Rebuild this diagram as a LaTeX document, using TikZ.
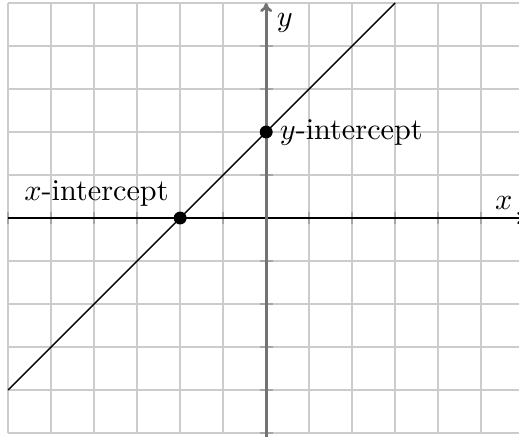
\documentclass[tikz,border=0pt]{standalone}
\usetikzlibrary{arrows.meta}

\begin{document}
\begin{tikzpicture}[x=0.5cm, y=0.5cm,
    gridline/.style={draw, gray!40, line width=0.6pt},
    tick/.style={draw, black!35, line width=0.6pt},
    axis/.style={draw, line width=0.6pt, -{To[length=3pt,width=4pt]}},
    dot/.style={circle, fill=black, inner sep=0pt, minimum size=1.5mm}]

    \useasboundingbox (-6.19,-5.07) rectangle (5.88,5.07);
    \clip (-6.19,-5.07) rectangle (5.88,5.07);

    \draw [gridline, step=0.5cm] (-6,-5) grid (6,5);

    % ticks
    \foreach \x in {-6,...,5}
        \draw [tick] (\x,-0.15) -- (\x,0.15);
    \foreach \y in {-5,...,4}
        \draw [tick] (-0.15,\y) -- (0.15,\y);

    \coordinate (xstart) at (-6,0);
    \coordinate (xend) at (6.05,0);
    \coordinate (ystart) at (0,-5.3);
    \coordinate (yend) at (0,5);

    \path [axis, black] (xstart) -- (xend);
    \path [axis, black!55, line width=0.9pt] (ystart) -- (yend);
    \node [anchor=south east, inner sep=2pt] (xlabel) at (5.88,0.05) {$x$};
    \node [below right] (ylabel) at (yend) {$y$};

    % the line y = x + 2
    \coordinate (lstart) at (-6,-4);
    \coordinate (lend) at (3,5);
    \draw [black, line width=0.5pt] (lstart) -- (lend);

    \node [dot, label={[inner sep=2pt]above left:$x$-intercept}] (xint) at (-2,0) {};
    \node [dot, label={[inner sep=2pt]right:$y$-intercept}] (yint) at (0,2) {};
\end{tikzpicture}
\end{document}
